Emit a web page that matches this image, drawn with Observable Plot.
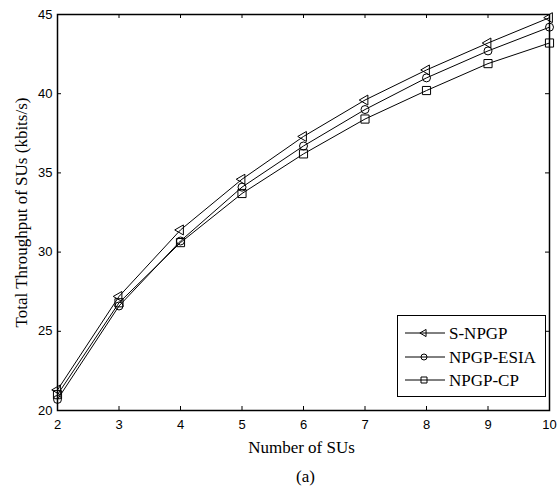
<!DOCTYPE html>
<html>
<head>
<meta charset="utf-8">
<script src="https://cdn.jsdelivr.net/npm/d3@7"></script>
<script src="https://cdn.jsdelivr.net/npm/@observablehq/plot@0.6"></script>
<style>
  html, body { margin: 0; padding: 0; background: #fff; }
  #wrap { position: relative; width: 560px; height: 488px; }
  #legend { position: absolute; left: 397px; top: 315px; width: 149px; height: 82px;
            box-sizing: border-box; border: 1px solid #000; background: #fff; }
</style>
</head>
<body>
<div id="wrap"></div>
<script>
// ---- data ----
const numSUs = [2, 3, 4, 5, 6, 7, 8, 9, 10];
const sNPGP  = [21.3, 27.2, 31.4, 34.6, 37.3, 39.6, 41.5, 43.2, 44.8];
const npgpESIA = [20.7, 26.6, 30.7, 34.1, 36.7, 39.0, 41.0, 42.7, 44.2];
const npgpCP = [21.0, 26.8, 30.6, 33.7, 36.2, 38.4, 40.2, 41.9, 43.2];
const seriesNames = ["S-NPGP", "NPGP-ESIA", "NPGP-CP"];
const xTicks = [2, 3, 4, 5, 6, 7, 8, 9, 10];
const yTicks = [20, 25, 30, 35, 40, 45];
const xLabel = "Number of SUs";
const yLabel = "Total Throughput of SUs (kbits/s)";
const caption = "(a)";

const seriesValues = [sNPGP, npgpESIA, npgpCP];
const rows = [];
seriesNames.forEach((s, i) => numSUs.forEach((x, j) => rows.push({series: s, x, y: seriesValues[i][j]})));

const W = 560, H = 488, mL = 57, mR = 11, mT = 14, mB = 78;
const fw = W - mL - mR, fh = H - mT - mB;
const serif = "'Liberation Serif', 'Times New Roman', serif";
const sans = "'Liberation Sans', Arial, sans-serif";

const markerStyle = {
  "S-NPGP": {symbol: "triangle", r: 3.7, rotate: -90},
  "NPGP-ESIA": {symbol: "circle", r: 4, rotate: 0},
  "NPGP-CP": {symbol: "square", r: 4.6, rotate: 0}
};

const marks = [];
seriesNames.forEach(s => {
  const d = rows.filter(r => r.series === s);
  marks.push(Plot.line(d, {x: "x", y: "y", stroke: "black", strokeWidth: 1}));
  const m = markerStyle[s];
  marks.push(Plot.dot(d, {x: "x", y: "y", symbol: m.symbol, r: m.r, rotate: m.rotate,
    stroke: "black", fill: "none", strokeWidth: 1}));
});

const chart = Plot.plot({
  width: W, height: H,
  marginLeft: mL, marginRight: mR, marginTop: mT, marginBottom: mB,
  style: {background: "white", color: "black", overflow: "visible"},
  x: {domain: [2, 10]},
  y: {domain: [20, 45]},
  marks: [
    // inward ticks on all four sides
    Plot.tickX(xTicks, {x: d => d, insetTop: fh - 4, stroke: "black"}),
    Plot.tickX(xTicks, {x: d => d, insetBottom: fh - 4, stroke: "black"}),
    Plot.tickY(yTicks, {y: d => d, insetRight: fw - 4, stroke: "black"}),
    Plot.tickY(yTicks, {y: d => d, insetLeft: fw - 4, stroke: "black"}),
    Plot.axisX(xTicks, {tickSize: 0, tickPadding: 9, fontSize: 13, fontFamily: sans, label: null}),
    Plot.axisY(yTicks, {tickSize: 0, tickPadding: 5, fontSize: 13, fontFamily: sans, label: null}),
    ...marks,
    Plot.frame({stroke: "black", strokeWidth: 1.5}),
    Plot.text([xLabel], {text: d => d, frameAnchor: "bottom", lineAnchor: "bottom", dy: 42, dx: -2,
      fontSize: 17, fontFamily: serif, fill: "black"}),
    Plot.text([caption], {text: d => d, frameAnchor: "bottom", lineAnchor: "bottom", dy: 71, dx: 2,
      fontSize: 17, fontFamily: serif, fill: "black"}),
    Plot.text([yLabel], {text: d => d, frameAnchor: "left", textAnchor: "middle", rotate: -90, dx: -36,
      fontSize: 17, fontFamily: serif, fill: "black"})
  ]
});
document.getElementById("wrap").appendChild(chart);

// ---- legend ----
const ns = "http://www.w3.org/2000/svg";
const leg = document.createElement("div");
leg.id = "legend";
const lsvg = document.createElementNS(ns, "svg");
lsvg.setAttribute("width", 147); lsvg.setAttribute("height", 80);
lsvg.style.position = "absolute"; lsvg.style.left = "0px"; lsvg.style.top = "0px";
const rowY = [17, 41, 64];
seriesNames.forEach((s, i) => {
  const y = rowY[i];
  const line = document.createElementNS(ns, "line");
  line.setAttribute("x1", 7); line.setAttribute("x2", 47);
  line.setAttribute("y1", y); line.setAttribute("y2", y);
  line.setAttribute("stroke", "black"); line.setAttribute("stroke-width", 1);
  lsvg.appendChild(line);
  const m = markerStyle[s];
  const sym = m.symbol === "triangle" ? d3.symbolTriangle : m.symbol === "circle" ? d3.symbolCircle : d3.symbolSquare;
  const size = m.symbol === "circle" ? Math.PI * 9 : m.symbol === "square" ? 36 : 22;
  const p = document.createElementNS(ns, "path");
  p.setAttribute("d", d3.symbol(sym, size)());
  p.setAttribute("transform", `translate(26,${y}) rotate(${m.rotate})`);
  p.setAttribute("fill", "none"); p.setAttribute("stroke", "black");
  lsvg.appendChild(p);
  const t = document.createElementNS(ns, "text");
  t.setAttribute("x", 51); t.setAttribute("y", y + 6);
  t.setAttribute("font-family", "Liberation Serif, Times New Roman, serif");
  t.setAttribute("font-size", 17);
  t.textContent = s;
  lsvg.appendChild(t);
});
leg.appendChild(lsvg);
document.getElementById("wrap").appendChild(leg);
</script>
</body>
</html>
